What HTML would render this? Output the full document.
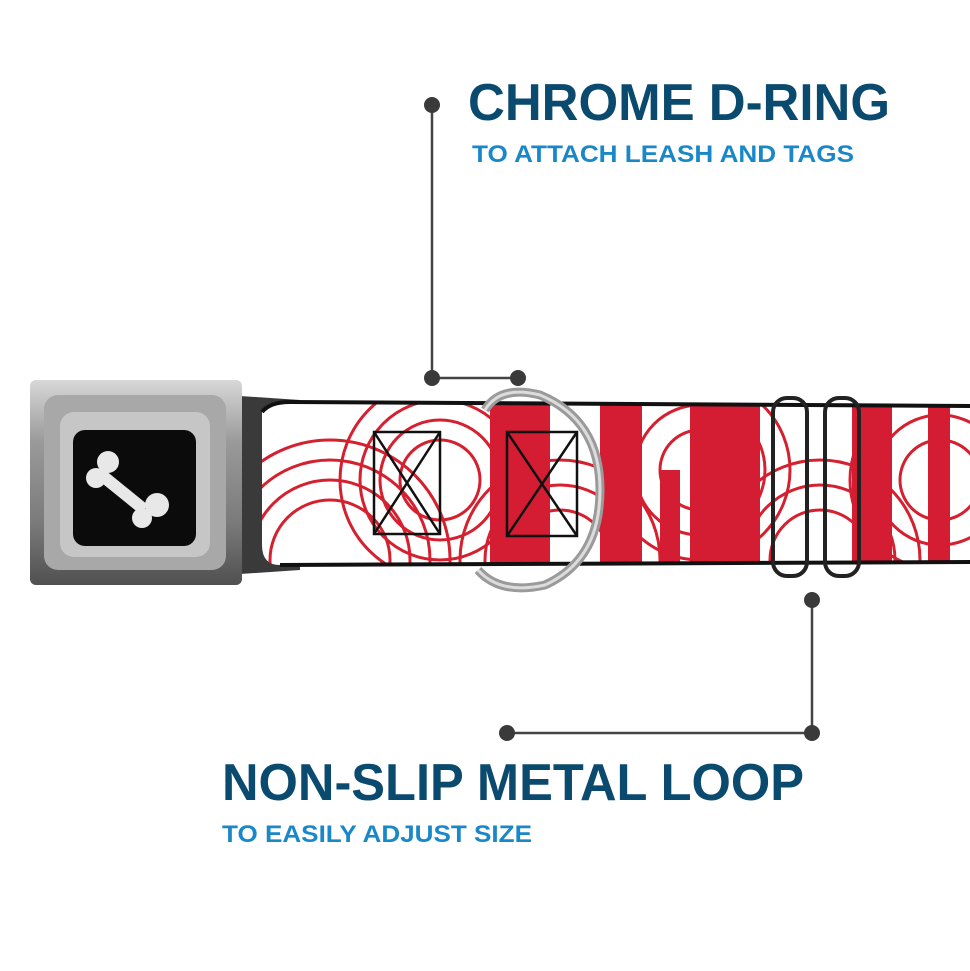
<!DOCTYPE html>
<html><head><style>
body{margin:0;background:#fff;width:970px;height:971px;overflow:hidden}
svg{display:block}
text{font-family:"Liberation Sans",sans-serif;font-weight:bold}
</style></head><body>
<svg width="970" height="971" viewBox="0 0 970 971">
<defs>
<linearGradient id="metal" x1="0" y1="0" x2="0" y2="1">
<stop offset="0" stop-color="#d8d8d8"/><stop offset="0.3" stop-color="#9a9a9a"/><stop offset="0.7" stop-color="#7a7a7a"/><stop offset="1" stop-color="#505050"/>
</linearGradient>
<clipPath id="strap"><path d="M262 412 Q270 402 290 402 L970 406 L970 562 L280 565 Q262 565 262 545 Z"/></clipPath>
</defs>
<!-- strap -->
<path d="M225 395 L300 400 L300 570 L225 575 Z" fill="#3a3a3a"/>
<g clip-path="url(#strap)">
<rect x="250" y="400" width="720" height="170" fill="#fff"/>
<g fill="none" stroke="#d4202f" stroke-width="3">
<circle cx="330" cy="560" r="60"/><circle cx="330" cy="560" r="80"/><circle cx="330" cy="560" r="100"/><circle cx="330" cy="560" r="120"/>
<circle cx="440" cy="480" r="40"/><circle cx="440" cy="480" r="60"/><circle cx="440" cy="480" r="80"/><circle cx="440" cy="480" r="100"/>
<circle cx="560" cy="560" r="50"/><circle cx="560" cy="560" r="75"/><circle cx="560" cy="560" r="100"/>
<circle cx="700" cy="470" r="40"/><circle cx="700" cy="470" r="65"/><circle cx="700" cy="470" r="90"/>
<circle cx="820" cy="560" r="50"/><circle cx="820" cy="560" r="75"/><circle cx="820" cy="560" r="100"/>
<circle cx="940" cy="480" r="40"/><circle cx="940" cy="480" r="65"/><circle cx="940" cy="480" r="90"/>
</g>
<g fill="#d41c33">
<rect x="490" y="400" width="60" height="170"/><rect x="600" y="400" width="42" height="170"/>
<rect x="690" y="400" width="70" height="170"/><rect x="852" y="400" width="40" height="170"/><rect x="928" y="400" width="22" height="170"/>
<rect x="660" y="470" width="20" height="100"/>
</g>
<g fill="none" stroke="#111" stroke-width="2.5">
<rect x="374" y="432" width="66" height="102"/><path d="M374 432 L440 534 M440 432 L374 534"/>
<rect x="507" y="432" width="70" height="104"/><path d="M507 432 L577 536 M577 432 L507 536"/>
</g>
</g>
<path d="M262 412 Q270 402 290 402 L970 406" fill="none" stroke="#111" stroke-width="4"/>
<path d="M280 565 L970 562" fill="none" stroke="#111" stroke-width="4"/>
<!-- D ring -->
<path d="M485 410 Q500 385 540 395 Q600 420 600 490 Q600 560 545 585 Q500 595 478 570" fill="none" stroke="#9a9a9a" stroke-width="9"/>
<path d="M485 410 Q500 385 540 395 Q600 420 600 490 Q600 560 545 585 Q500 595 478 570" fill="none" stroke="#dcdcdc" stroke-width="3"/>
<!-- loop -->
<rect x="773" y="398" width="34" height="178" rx="14" fill="none" stroke="#222" stroke-width="4"/>
<rect x="825" y="398" width="34" height="178" rx="14" fill="none" stroke="#222" stroke-width="4"/>
<!-- buckle -->
<rect x="30" y="380" width="212" height="205" rx="6" fill="url(#metal)"/>
<rect x="44" y="395" width="182" height="175" rx="14" fill="#a8a8a8"/>
<rect x="60" y="412" width="150" height="145" rx="14" fill="#c6c6c6"/>
<rect x="73" y="430" width="123" height="116" rx="12" fill="#0b0b0b"/>
<g fill="#e8e8e8">
<circle cx="108" cy="462" r="11"/><circle cx="96" cy="478" r="10"/>
<circle cx="157" cy="505" r="12"/><circle cx="142" cy="518" r="10"/>
<path d="M105 470 L148 505 L140 514 L98 480 Z"/>
</g>
<!-- callouts -->
<g stroke="#444" stroke-width="2.5" fill="none">
<path d="M432 105 L432 378 L518 378"/><path d="M812 600 L812 733 L507 733"/>
</g>
<g fill="#3a3a3a"><circle cx="432" cy="105" r="8"/><circle cx="432" cy="378" r="8"/><circle cx="518" cy="378" r="8"/>
<circle cx="812" cy="600" r="8"/><circle cx="812" cy="733" r="8"/><circle cx="507" cy="733" r="8"/></g>
<text x="468" y="120" font-size="52" fill="#0b4a6f" textLength="422" lengthAdjust="spacingAndGlyphs">CHROME D-RING</text>
<text x="472" y="162" font-size="24" fill="#1a88c8" textLength="382" lengthAdjust="spacingAndGlyphs">TO ATTACH LEASH AND TAGS</text>
<text x="222" y="800" font-size="52" fill="#0b4a6f" textLength="582" lengthAdjust="spacingAndGlyphs">NON-SLIP METAL LOOP</text>
<text x="222" y="842" font-size="24" fill="#1a88c8" textLength="310" lengthAdjust="spacingAndGlyphs">TO EASILY ADJUST SIZE</text>
</svg>
</body></html>
